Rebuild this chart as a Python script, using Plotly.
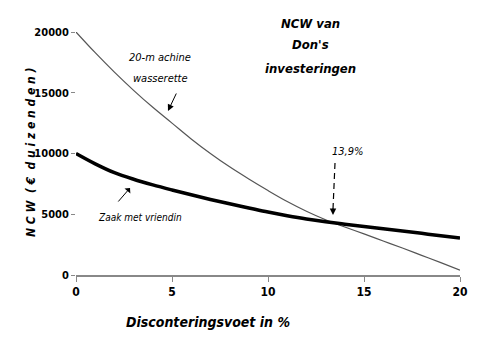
import plotly.graph_objects as go

rate = list(range(0, 21))
wasserette = [20000, 18300, 16700, 15200, 13800, 12500, 11200, 10000, 8900, 7900,
              6950, 6050, 5250, 4550, 3950, 3380, 2800, 2220, 1620, 1020, 400]
vriendin = [10000, 9150, 8420, 7880, 7420, 7000, 6600, 6220, 5860, 5520,
            5180, 4880, 4610, 4380, 4180, 3990, 3810, 3630, 3430, 3230, 3040]
x_ticks = [0, 5, 10, 15, 20]
y_ticks = [0, 5000, 10000, 15000, 20000]

FONT = "DejaVu Sans Condensed, Liberation Sans Narrow, Arial Narrow, sans-serif"

# page offset of 8px (body margin) is compensated in width/height/margins
fig = go.Figure()
fig.add_trace(go.Scatter(x=rate, y=wasserette, mode="lines", line_shape="spline",
                         line=dict(color="#555555", width=1.2), cliponaxis=False,
                         showlegend=False))
fig.add_trace(go.Scatter(x=rate, y=vriendin, mode="lines", line_shape="spline",
                         line=dict(color="#000000", width=3.5), cliponaxis=False,
                         showlegend=False))

# page pixel -> data / paper coordinates (plot area x 76..460, y 32..275 on page)
def px2x(p):
    return (p - 76) / 19.2

def py2y(p):
    return (275 - p) * 20000 / 243

def pxp(p):
    return (p - 76) / 384

def pyp(p):
    return (275 - p) / 243

def label(text, px, py, size, angle=0):
    return dict(x=pxp(px), y=pyp(py), xref="paper", yref="paper", text=text,
                xanchor="center", yanchor="middle", showarrow=False, textangle=angle,
                font=dict(family=FONT, size=size, color="black"))

def arrow(px, py, ax, ay, head):
    return dict(x=px2x(px), y=py2y(py), xref="x", yref="y", ax=ax, ay=ay, text="",
                showarrow=True, arrowhead=head, arrowsize=1.3, arrowwidth=1,
                arrowcolor="black")

ann = []
for txt, yy in [("NCW van", 23), ("Don's", 45), ("investeringen", 68)]:
    ann.append(label("<b><i>%s</i></b>" % txt, 310, yy, 13))
ann.append(label("<i>20-m achine</i>", 160, 58, 11))
ann.append(label("<i>wasserette</i>", 160, 78, 11))
ann.append(label("<i>Zaak met vriendin</i>", 140, 217, 10))
ann.append(label("<i>13,9%</i>", 347, 151, 11))
ann.append(arrow(168, 111, 9, -19, 2))
ann.append(arrow(130, 188, -13, 15, 1))
ann.append(arrow(333, 215, 0, -8, 2))
ann.append(label("<b><i>Disconteringsvoet in %</i></b>", 208, 322, 14))
ann.append(label("<b><i>N C W&nbsp;&nbsp;( € &nbsp;d u i z e n d e n )</i></b>", 31, 152, 12, -90))

fig.update_layout(
    width=472, height=352,
    margin=dict(l=68, r=20, t=24, b=85),
    paper_bgcolor="white", plot_bgcolor="white",
    font=dict(family=FONT, color="black"),
    annotations=ann,
    shapes=[dict(type="line", xref="x", yref="y", x0=px2x(335), y0=py2y(163),
                 x1=px2x(333), y1=py2y(209), line=dict(color="black", width=1.2, dash="6px,4px"))],
    xaxis=dict(range=[0, 20], tickvals=x_ticks, ticktext=["<b>%d</b>" % v for v in x_ticks],
               showgrid=False, zeroline=False, showline=True, linecolor="#888888", linewidth=1.5,
               ticks="outside", ticklen=5, tickcolor="#888888", tickfont=dict(size=12),
               automargin=False),
    yaxis=dict(range=[0, 20000], tickvals=y_ticks, ticktext=["<b>%d</b>" % v for v in y_ticks],
               showgrid=False, zeroline=False, showline=False,
               ticks="outside", ticklen=4, tickcolor="#888888", tickfont=dict(size=11),
               automargin=False),
)

fig.write_html("out.html")
